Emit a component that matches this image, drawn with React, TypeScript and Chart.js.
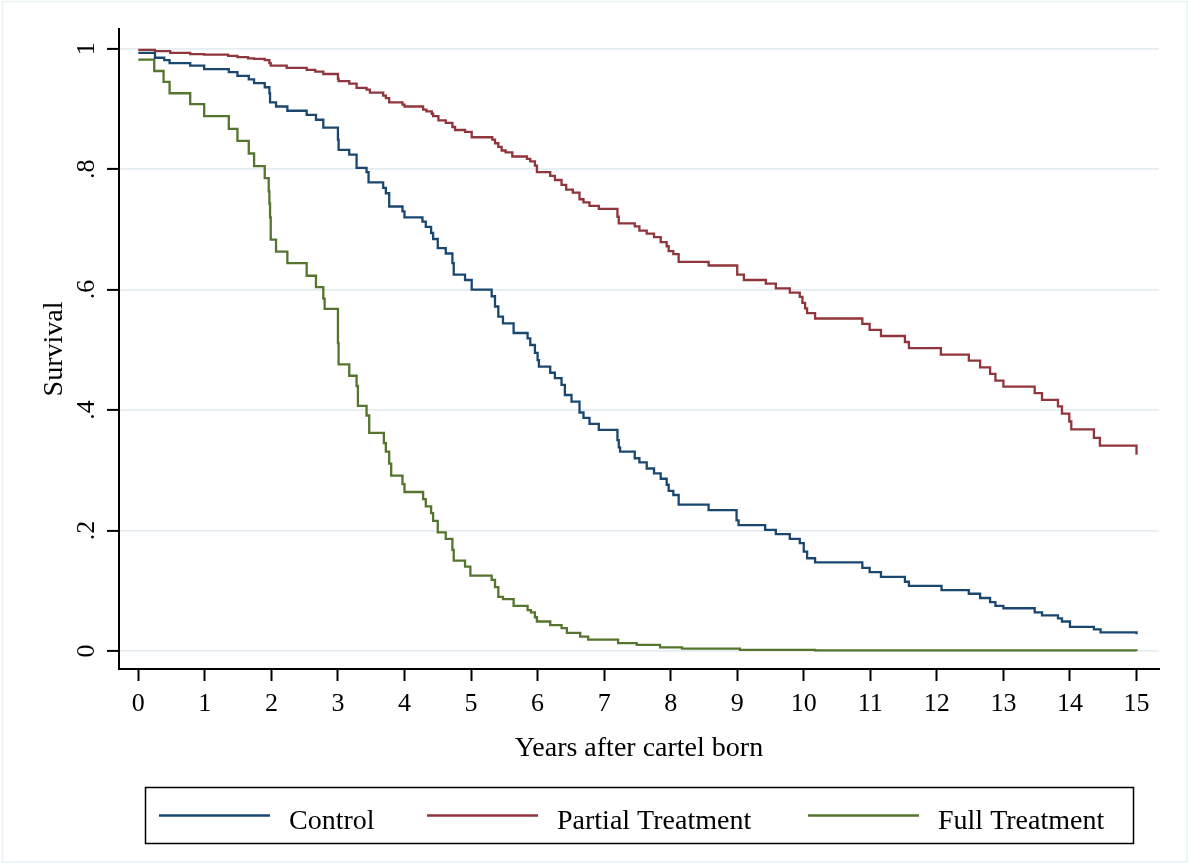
import React, { useEffect, useRef } from 'react';
import { Chart, registerables } from 'chart.js';

Chart.register(...registerables);

const FONT = '"Liberation Serif", "Times New Roman", serif';

const xTickValues = [0, 1, 2, 3, 4, 5, 6, 7, 8, 9, 10, 11, 12, 13, 14, 15];
const yTickValues = [0, 0.2, 0.4, 0.6, 0.8, 1];
const yTickLabels = ['0', '.2', '.4', '.6', '.8', '1'];

const seriesLabels = ['Control', 'Partial Treatment', 'Full Treatment'];
const seriesColors = ['#1a476f', '#90353b', '#55752f'];

const xTitle = 'Years after cartel born';
const yTitle = 'Survival';

// Kaplan-Meier steps: survival value after the event at each time
const controlTimes = [0, 0.25, 0.39, 0.47, 0.78, 0.99, 1.36, 1.49, 1.66, 1.74, 1.90, 1.97, 1.98, 2.07, 2.24, 2.53, 2.67, 2.78, 3.00, 3.01, 3.17, 3.28, 3.43, 3.46, 3.68, 3.72, 3.77, 3.97, 4.00, 4.27, 4.32, 4.40, 4.43, 4.50, 4.62, 4.72, 4.74, 4.91, 5.01, 5.31, 5.36, 5.41, 5.48, 5.64, 5.85, 5.89, 5.96, 6.00, 6.02, 6.19, 6.26, 6.36, 6.41, 6.51, 6.63, 6.69, 6.78, 6.92, 7.20, 7.22, 7.24, 7.46, 7.53, 7.64, 7.75, 7.85, 7.94, 7.97, 8.04, 8.12, 8.57, 8.99, 9.02, 9.42, 9.58, 9.79, 9.94, 10.00, 10.05, 10.17, 10.88, 10.99, 11.16, 11.52, 11.58, 12.07, 12.48, 12.65, 12.80, 12.88, 13.00, 13.47, 13.58, 13.82, 13.88, 14.00, 14.36, 14.46, 15.00];
const controlSurvival = [0.993, 0.985, 0.981, 0.976, 0.972, 0.966, 0.961, 0.955, 0.949, 0.943, 0.936, 0.926, 0.911, 0.904, 0.897, 0.890, 0.882, 0.869, 0.849, 0.832, 0.824, 0.802, 0.795, 0.778, 0.769, 0.760, 0.738, 0.730, 0.720, 0.713, 0.704, 0.694, 0.684, 0.669, 0.660, 0.644, 0.625, 0.616, 0.600, 0.589, 0.572, 0.555, 0.544, 0.528, 0.519, 0.508, 0.495, 0.483, 0.472, 0.462, 0.453, 0.442, 0.425, 0.414, 0.396, 0.387, 0.377, 0.367, 0.350, 0.338, 0.331, 0.320, 0.313, 0.303, 0.295, 0.286, 0.276, 0.266, 0.259, 0.243, 0.234, 0.217, 0.209, 0.201, 0.194, 0.186, 0.179, 0.165, 0.154, 0.147, 0.138, 0.131, 0.123, 0.115, 0.108, 0.101, 0.095, 0.088, 0.081, 0.075, 0.071, 0.064, 0.059, 0.054, 0.049, 0.040, 0.036, 0.031, 0.028];

const partialTimes = [0, 0.25, 0.48, 0.78, 0.99, 1.35, 1.49, 1.65, 1.74, 1.90, 1.97, 1.99, 2.23, 2.53, 2.66, 2.78, 3.00, 3.01, 3.17, 3.28, 3.43, 3.48, 3.68, 3.72, 3.77, 3.97, 4.00, 4.28, 4.33, 4.41, 4.43, 4.51, 4.62, 4.72, 4.76, 4.91, 5.01, 5.32, 5.36, 5.41, 5.46, 5.52, 5.62, 5.84, 5.89, 5.96, 5.99, 6.19, 6.26, 6.36, 6.43, 6.53, 6.63, 6.69, 6.78, 6.92, 7.20, 7.22, 7.46, 7.53, 7.64, 7.75, 7.85, 7.94, 7.97, 8.04, 8.12, 8.57, 9.00, 9.10, 9.43, 9.58, 9.79, 9.94, 9.98, 10.02, 10.05, 10.17, 10.88, 10.99, 11.16, 11.52, 11.58, 12.06, 12.48, 12.65, 12.80, 12.88, 13.00, 13.47, 13.58, 13.82, 13.88, 13.99, 14.02, 14.36, 14.45, 15.00];
const partialSurvival = [0.998, 0.996, 0.993, 0.991, 0.990, 0.988, 0.986, 0.984, 0.983, 0.981, 0.976, 0.972, 0.968, 0.965, 0.962, 0.958, 0.950, 0.946, 0.942, 0.935, 0.932, 0.927, 0.922, 0.918, 0.911, 0.907, 0.904, 0.899, 0.896, 0.892, 0.888, 0.881, 0.877, 0.870, 0.865, 0.862, 0.853, 0.849, 0.843, 0.837, 0.831, 0.828, 0.821, 0.817, 0.813, 0.806, 0.795, 0.789, 0.782, 0.774, 0.766, 0.761, 0.750, 0.745, 0.739, 0.734, 0.721, 0.710, 0.705, 0.698, 0.693, 0.687, 0.679, 0.672, 0.664, 0.659, 0.646, 0.640, 0.625, 0.616, 0.610, 0.602, 0.595, 0.588, 0.578, 0.569, 0.561, 0.552, 0.543, 0.533, 0.523, 0.513, 0.503, 0.492, 0.482, 0.471, 0.460, 0.449, 0.439, 0.428, 0.417, 0.406, 0.394, 0.381, 0.368, 0.354, 0.341, 0.326];

const fullTimes = [0, 0.24, 0.38, 0.47, 0.78, 0.99, 1.36, 1.49, 1.66, 1.74, 1.90, 1.96, 1.97, 1.98, 1.99, 2.07, 2.24, 2.53, 2.67, 2.78, 2.80, 3.00, 3.01, 3.17, 3.28, 3.30, 3.43, 3.47, 3.69, 3.72, 3.77, 3.80, 3.97, 4.00, 4.28, 4.32, 4.40, 4.43, 4.50, 4.62, 4.72, 4.74, 4.91, 4.99, 5.31, 5.36, 5.41, 5.48, 5.64, 5.85, 5.90, 5.96, 5.99, 6.19, 6.36, 6.44, 6.64, 6.76, 7.21, 7.49, 7.84, 8.17, 9.04, 10.17, 15.00];
const fullSurvival = [0.982, 0.963, 0.945, 0.926, 0.908, 0.888, 0.867, 0.847, 0.826, 0.805, 0.785, 0.763, 0.743, 0.720, 0.683, 0.663, 0.644, 0.623, 0.604, 0.585, 0.568, 0.511, 0.476, 0.457, 0.440, 0.407, 0.391, 0.362, 0.345, 0.331, 0.311, 0.291, 0.277, 0.264, 0.252, 0.240, 0.229, 0.216, 0.197, 0.186, 0.168, 0.150, 0.140, 0.125, 0.118, 0.106, 0.090, 0.086, 0.075, 0.068, 0.064, 0.056, 0.049, 0.043, 0.038, 0.030, 0.024, 0.019, 0.013, 0.010, 0.006, 0.004, 0.002, 0.001, 0.000];

const seriesTimes = [controlTimes, partialTimes, fullTimes];
const seriesSurvival = [controlSurvival, partialSurvival, fullSurvival];

const W = 1188;
const H = 863;

const decorPlugin = {
  id: 'stataDecor',
  beforeDraw(chart: any) {
    const ctx = chart.ctx;
    ctx.save();
    ctx.fillStyle = '#ffffff';
    ctx.fillRect(0, 0, chart.width, chart.height);
    ctx.strokeStyle = '#eaf1f3';
    ctx.lineWidth = 1.5;
    ctx.strokeRect(2.5, 1.5, chart.width - 3.5, chart.height - 2.5);
    ctx.restore();
  },
  afterDraw(chart: any) {
    const ctx = chart.ctx;
    const ys = chart.scales.y;
    // rotated y tick labels
    ctx.save();
    ctx.font = `26px ${FONT}`;
    ctx.fillStyle = '#000';
    ctx.textAlign = 'center';
    ctx.textBaseline = 'alphabetic';
    yTickValues.forEach((v, i) => {
      const py = ys.getPixelForValue(v);
      ctx.save();
      ctx.translate(94, py);
      ctx.rotate(-Math.PI / 2);
      ctx.fillText(yTickLabels[i], 0, 0);
      ctx.restore();
    });
    ctx.restore();

    // legend box
    const boxX = 145.5, boxY = 787.5, boxW = 988, boxH = 56;
    const lineStarts = [159, 427, 808];
    const lineLen = 111;
    const midY = boxY + boxH / 2;
    ctx.save();
    ctx.strokeStyle = '#000';
    ctx.lineWidth = 1.5;
    ctx.strokeRect(boxX, boxY, boxW, boxH);
    ctx.font = `28px ${FONT}`;
    ctx.textAlign = 'left';
    ctx.textBaseline = 'alphabetic';
    chart.data.datasets.forEach((ds: any, i: number) => {
      ctx.strokeStyle = ds.borderColor;
      ctx.lineWidth = 2.3;
      ctx.beginPath();
      ctx.moveTo(lineStarts[i], midY);
      ctx.lineTo(lineStarts[i] + lineLen, midY);
      ctx.stroke();
      ctx.fillStyle = '#000';
      ctx.fillText(ds.label, lineStarts[i] + lineLen + 19, 829);
    });
    ctx.restore();
  },
};

export default function App() {
  const canvasRef = useRef<HTMLCanvasElement | null>(null);

  useEffect(() => {
    const canvas = canvasRef.current;
    if (!canvas) return;
    const datasets = seriesLabels.map((label, i) => ({
      label,
      data: seriesTimes[i].map((t, j) => ({ x: t, y: seriesSurvival[i][j] })),
      borderColor: seriesColors[i],
      backgroundColor: seriesColors[i],
      borderWidth: 2.3,
      stepped: 'before' as const,
      pointRadius: 0,
      fill: false,
      tension: 0,
    }));

    const chart = new Chart(canvas, {
      type: 'line',
      data: { datasets },
      plugins: [decorPlugin],
      options: {
        animation: false,
        responsive: false,
        devicePixelRatio: 1,
        layout: { padding: { top: 29, right: 29, bottom: 98, left: 0 } },
        plugins: {
          legend: { display: false },
          tooltip: { enabled: false },
        },
        scales: {
          x: {
            type: 'linear',
            min: -0.29,
            max: 15.338,
            afterBuildTicks: (s: any) => {
              s.ticks = xTickValues.map((v) => ({ value: v }));
            },
            afterFit: (s: any) => {
              s.height = 96;
            },
            grid: {
              drawOnChartArea: false,
              drawTicks: true,
              tickLength: 12,
              tickColor: '#000',
              tickWidth: 2,
            },
            border: { display: true, color: '#000', width: 2 },
            ticks: {
              font: { family: FONT, size: 26 },
              color: '#000',
              padding: 8,
              maxRotation: 0,
              minRotation: 0,
              autoSkip: false,
              callback: (v: any) => String(v),
            },
            title: {
              display: true,
              text: xTitle,
              color: '#000',
              font: { family: FONT, size: 28, lineHeight: 1.2 },
              padding: { top: 0, bottom: 0 },
            },
          },
          y: {
            type: 'linear',
            min: -0.0299,
            max: 1.0327,
            afterBuildTicks: (s: any) => {
              s.ticks = yTickValues.map((v) => ({ value: v }));
            },
            afterFit: (s: any) => {
              s.width = 119;
            },
            grid: {
              color: '#e4edf0',
              lineWidth: 1.8,
              drawTicks: true,
              tickLength: 12,
              tickColor: '#000',
              tickWidth: 2,
            },
            border: { display: true, color: '#000', width: 2 },
            ticks: { display: false },
            title: {
              display: true,
              text: yTitle,
              color: '#000',
              font: { family: FONT, size: 28, lineHeight: 1.2 },
              padding: { top: 38, bottom: 0 },
            },
          },
        },
      },
    });
    return () => chart.destroy();
  }, []);

  return (
    <div style={{ position: 'absolute', left: 0, top: 0, width: W, height: H, background: '#fff' }}>
      <canvas ref={canvasRef} width={W} height={H} style={{ display: 'block', width: W, height: H }} />
    </div>
  );
}
